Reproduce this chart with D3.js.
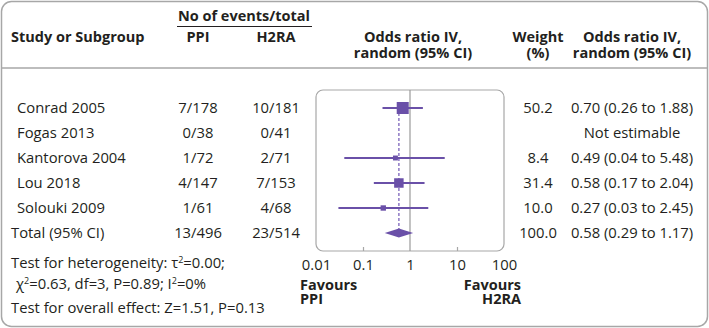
<!DOCTYPE html>
<html>
<head>
<meta charset="utf-8">
<script src="https://cdn.jsdelivr.net/npm/d3@7"></script>
<style>
  body { margin: 0; background: #fff; }
  svg text { font-family: "Open Sans", sans-serif; fill: #231f20; }
  .hdr { font-weight: 700; }
</style>
</head>
<body>
<div id="chart"></div>
<script>
// forest plot data
var studies = ["Conrad 2005", "Fogas 2013", "Kantorova 2004", "Lou 2018", "Solouki 2009"];
var ppiEvents = ["7/178", "0/38", "1/72", "4/147", "1/61"];
var h2raEvents = ["10/181", "0/41", "2/71", "7/153", "4/68"];
var weights = [50.2, null, 8.4, 31.4, 10.0];
var oddsRatio = [0.70, null, 0.49, 0.58, 0.27];
var ciLow = [0.26, null, 0.04, 0.17, 0.03];
var ciHigh = [1.88, null, 5.48, 2.04, 2.45];
var total = {label: "Total (95% CI)", ppi: "13/496", h2ra: "23/514", weight: 100.0, or: 0.58, lo: 0.29, hi: 1.17};
var axisTicks = [0.01, 0.1, 1, 10, 100];

var W = 709, H = 328;
var purple = "#6a50a8", grey = "#a7a7a7";
var fmt2 = d3.format(".2f"), fmt1 = d3.format(".1f");
var FS = "14.8px", FSB = "14.5px";

var svg = d3.select("#chart").append("svg")
    .attr("width", W)
    .attr("height", H);

// outer frame + header rule
svg.append("rect")
    .attr("x", 1.5).attr("y", 1.5)
    .attr("width", W - 3).attr("height", H - 3)
    .attr("rx", 10)
    .attr("fill", "none").attr("stroke", grey).attr("stroke-width", 1.5);
svg.append("line")
    .attr("x1", 2).attr("x2", W - 2)
    .attr("y1", 68).attr("y2", 68)
    .attr("stroke", grey).attr("stroke-width", 1.5);

// scales
var rows = studies.concat([total.label]);
var yRow = d3.scalePoint().domain(rows).range([108, 233]);
var xOR = d3.scaleLog().domain([0.01, 100]).range([316, 504]);

var col = {ppi: 198, h2ra: 276, weight: 538, ci: 632};

function txt(t, px, py, anchor, cls) {
  return svg.append("text")
      .attr("x", px).attr("y", py)
      .attr("dy", "0.35em")
      .attr("text-anchor", anchor || "start")
      .attr("class", cls || null)
      .style("font-size", cls === "hdr" ? FSB : FS)
      .text(t);
}

// headers
txt("Study or Subgroup", 11, 37, "start", "hdr");
txt("No of events/total", 244, 16, "middle", "hdr");
svg.append("line")
    .attr("x1", 177).attr("x2", 312)
    .attr("y1", 26.5).attr("y2", 26.5)
    .attr("stroke", "#231f20").attr("stroke-width", 1.2);
txt("PPI", col.ppi, 37, "middle", "hdr");
txt("H2RA", col.h2ra, 37, "middle", "hdr");
txt("Odds ratio IV,", 413, 37, "middle", "hdr");
txt("random (95% CI)", 413, 53, "middle", "hdr");
txt("Weight", col.weight, 37, "middle", "hdr");
txt("(%)", col.weight, 53, "middle", "hdr");
txt("Odds ratio IV,", col.ci, 37, "middle", "hdr");
txt("random (95% CI)", col.ci, 53, "middle", "hdr");

// study rows
studies.forEach(function(s, i) {
  var yy = yRow(s);
  txt(s, 17, yy);
  txt(ppiEvents[i], col.ppi, yy, "middle");
  txt(h2raEvents[i], col.h2ra, yy, "middle");
  if (weights[i] != null) {
    txt(fmt1(weights[i]), col.weight, yy, "middle");
    txt(fmt2(oddsRatio[i]) + " (" + fmt2(ciLow[i]) + " to " + fmt2(ciHigh[i]) + ")", col.ci, yy, "middle");
  } else {
    txt("Not estimable", col.ci, yy, "middle");
  }
});
var ty = yRow(total.label);
txt(total.label, 11, ty);
txt(total.ppi, col.ppi, ty, "middle");
txt(total.h2ra, col.h2ra, ty, "middle");
txt(fmt1(total.weight), col.weight, ty, "middle");
txt(fmt2(total.or) + " (" + fmt2(total.lo) + " to " + fmt2(total.hi) + ")", col.ci, ty, "middle");

// plot box
var plotTop = 90, plotBottom = 251;
svg.append("rect")
    .attr("x", xOR(0.01)).attr("y", plotTop)
    .attr("width", xOR(100) - xOR(0.01)).attr("height", plotBottom - plotTop)
    .attr("rx", 7)
    .attr("fill", "none").attr("stroke", grey).attr("stroke-width", 1.2);
svg.append("line")
    .attr("x1", xOR(1)).attr("x2", xOR(1))
    .attr("y1", plotTop).attr("y2", plotBottom)
    .attr("stroke", "#9a9a9a").attr("stroke-width", 1.2);

// axis (ticks inside the box, labels below)
var xAxis = d3.axisBottom(xOR)
    .tickValues(axisTicks)
    .tickSizeInner(-4).tickSizeOuter(0)
    .tickPadding(8)
    .tickFormat(d3.format("~g"));
var ax = svg.append("g")
    .attr("transform", "translate(0," + plotBottom + ")")
    .call(xAxis);
ax.select(".domain").remove();
ax.selectAll(".tick line").attr("stroke", grey).attr("stroke-width", 1.2)
  .filter(function(d) { return d === 0.01 || d === 100 || d === 1; }).remove();
ax.selectAll(".tick text")
    .style("font-size", FS).style("font-family", "Open Sans, sans-serif")
    .attr("fill", "#231f20");

// pooled estimate dashed line
svg.append("line")
    .attr("x1", xOR(total.or)).attr("x2", xOR(total.or))
    .attr("y1", yRow(studies[0])).attr("y2", ty - 4)
    .attr("stroke", "#8d78c4").attr("stroke-width", 1.5)
    .attr("stroke-dasharray", "3,2");

// CI lines and squares
var sq = d3.scaleSqrt().domain([0, 50.2]).range([0, 12]);
studies.forEach(function(s, i) {
  if (oddsRatio[i] == null) return;
  var yy = yRow(s);
  svg.append("line")
      .attr("x1", xOR(ciLow[i])).attr("x2", xOR(ciHigh[i]))
      .attr("y1", yy).attr("y2", yy)
      .attr("stroke", purple).attr("stroke-width", 2);
  var side = sq(weights[i]);
  svg.append("rect")
      .attr("x", xOR(oddsRatio[i]) - side / 2).attr("y", yy - side / 2)
      .attr("width", side).attr("height", side)
      .attr("fill", purple);
});

// pooled diamond
svg.append("path")
    .attr("d", "M" + xOR(total.lo) + "," + ty + "L" + xOR(total.or) + "," + (ty - 4.5) +
               "L" + xOR(total.hi) + "," + ty + "L" + xOR(total.or) + "," + (ty + 4.5) + "Z")
    .attr("fill", purple);

// favours labels
txt("Favours", 300, 285, "start", "hdr");
txt("PPI", 300, 298.5, "start", "hdr");
txt("Favours", 521, 285, "end", "hdr");
txt("H2RA", 521, 298.5, "end", "hdr");

// footnotes
var foot = svg.append("text").attr("x", 11).attr("y", 263).attr("dy", "0.35em").style("font-size", FS);
foot.append("tspan").text("Test for heterogeneity: \u03c4");
foot.append("tspan").attr("dy", "-5").style("font-size", "9px").text("2");
foot.append("tspan").attr("dy", "5").text("=0.00;");
var foot2 = svg.append("text").attr("x", 16).attr("y", 284).attr("dy", "0.35em").style("font-size", FS);
foot2.append("tspan").text("\u03c7");
foot2.append("tspan").attr("dy", "-5").style("font-size", "9px").text("2");
foot2.append("tspan").attr("dy", "5").text("=0.63, df=3, P=0.89; I");
foot2.append("tspan").attr("dy", "-5").style("font-size", "9px").text("2");
foot2.append("tspan").attr("dy", "5").text("=0%");
txt("Test for overall effect: Z=1.51, P=0.13", 11, 308);
</script>
</body>
</html>
